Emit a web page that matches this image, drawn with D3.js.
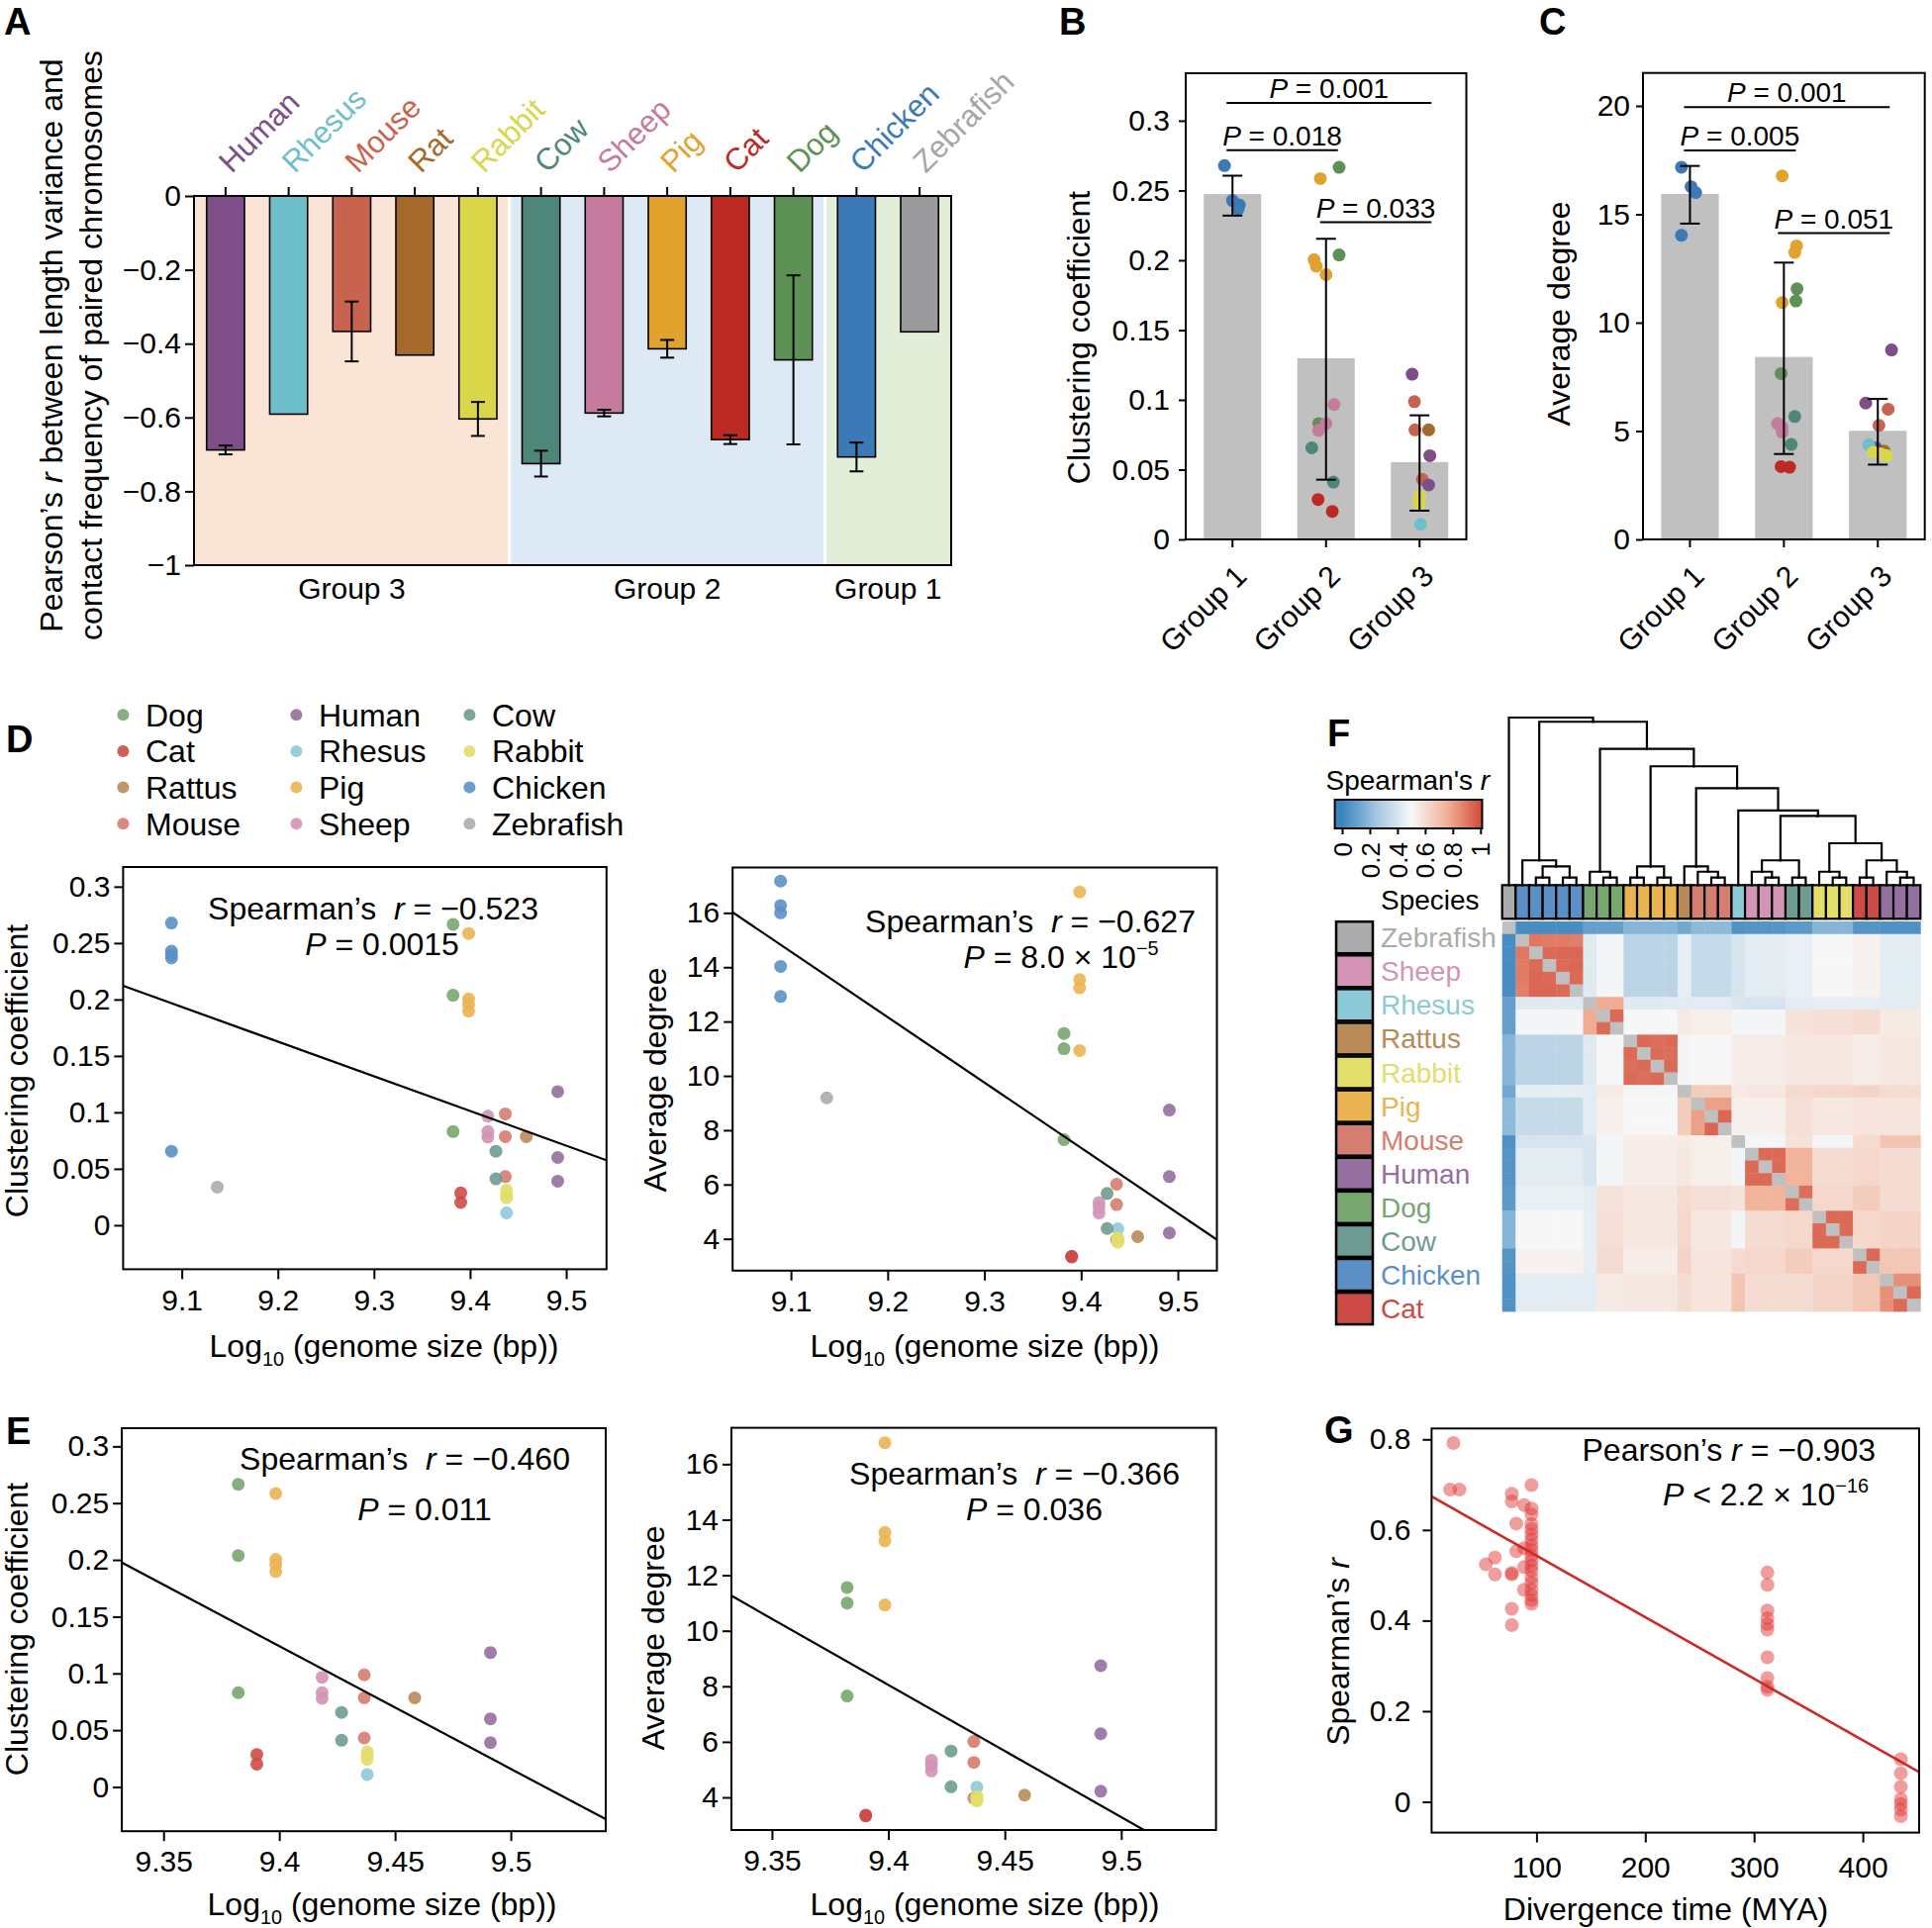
<!DOCTYPE html>
<html>
<head>
<meta charset="utf-8">
<script src="https://cdn.jsdelivr.net/npm/d3@7/dist/d3.min.js"></script>
<style>
html,body{margin:0;padding:0;background:#fff;}
svg{display:block;}
svg text{font-family:"Liberation Sans",Arial,Helvetica,sans-serif;}
</style>
</head>
<body>
<script>
// ===================== DATA =====================
// Panel A
const speciesA = ["Human","Rhesus","Mouse","Rat","Rabbit","Cow","Sheep","Pig","Cat","Dog","Chicken","Zebrafish"];
const groupA   = [3,3,3,3,3,2,2,2,2,2,1,1];
const valueA   = [-0.688,-0.591,-0.367,-0.431,-0.604,-0.725,-0.588,-0.414,-0.660,-0.444,-0.707,-0.368];
const errA     = [0.012,0,0.081,0,0.046,0.035,0.009,0.024,0.012,0.229,0.039,0];
const ticksA   = [0,-0.2,-0.4,-0.6,-0.8,-1];
const groupIdsA = [3,2,1];
const groupNamesA = ["Group 3","Group 2","Group 1"];

// Panels B/C
const groupsBC = ["Group 1","Group 2","Group 3"];
const ccMean = [0.2474,0.1298,0.0554];
const ccHi   = [0.2606,0.2154,0.0889];
const ccLo   = [0.2320,0.0428,0.0206];
const degMean = [15.94,8.42,5.01];
const degHi   = [17.23,12.77,6.48];
const degLo   = [14.57,3.94,3.45];
const pvalB = [["Group 1","Group 3",0.3127,"0.001"],["Group 1","Group 2",0.2788,"0.018"],["Group 2","Group 3",0.2272,"0.033"]];
const pvalC = [["Group 1","Group 3",19.94,"0.001"],["Group 1","Group 2",17.95,"0.005"],["Group 2","Group 3",14.13,"0.051"]];
const ticksB = [0,0.05,0.1,0.15,0.2,0.25,0.3];
const ticksC = [0,5,10,15,20];

// Per-species data (panels B–E)
const spp      = ["Dog","Cat","Rat","Mouse","Human","Rhesus","Pig","Sheep","Cow","Rabbit","Chicken","Zebrafish"];
const sppLabel = ["Dog","Cat","Rattus","Mouse","Human","Rhesus","Pig","Sheep","Cow","Rabbit","Chicken","Zebrafish"];
const sppGroup = [2,2,3,3,3,3,2,2,2,3,1,1];
const genomeLog10 = [9.3823,9.3903,9.4585,9.4367,9.4912,9.4380,9.3985,9.4185,9.4269,9.4380,9.0893,9.1370];
const clusterCoef = [[0.2666,0.2038,0.0830],[0.0286,0.0201],[0.0785],[0.0987,0.0785,0.0431],[0.1184,0.0600,0.0390],[0.0109],
  [0.2585,0.2005,0.1957,0.1897],[0.0966,0.0830,0.0781],[0.0656,0.0411],[0.0310,0.0274,0.0242],[0.2678,0.2428,0.2396,0.2368,0.0656],[0.0338]];
const clusterJitter = [[0.14,0.14,-0.079],[-0.085,0.067],[0.097],[-0.055,-0.049,0.03],[-0.079,0.11,0.097],[0.012],
  [-0.061,-0.128,-0.104,0],[0.085,0,-0.079],[-0.152,0.079],[0,-0.012,0],[-0.086,0,0.073,0.061,null],[null]];
const avgDegree = [[11.56,11.00,7.65],[3.36,3.33],[4.08],[6.01,5.26,3.97],[8.74,6.29,4.22],[4.37],
  [16.77,13.54,13.24,10.93],[5.34,5.17,4.95],[5.67,4.38],[4.03,3.95,3.87],[17.17,16.27,16.00,14.03,12.92],[9.19]];
const degreeJitter = [[0.14,0.128,-0.03],[-0.03,0.061],[0.067],[0.11,0.012,0.04],[0.146,-0.128,-0.018],[-0.097],
  [-0.018,0.135,0.116,-0.018],[-0.067,-0.018,-0.018],[0.116,0.079],[-0.049,0.03,0.091],[-0.091,0.012,0.061,-0.091,null],[null]];

// regression lines (endpoints in data units) and statistics
const fitDL = [[9.039,0.2122],[9.542,0.0576]];
const fitDR = [[9.0397,16.02],[9.5404,3.97]];
const fitEL = [[9.332,0.1976],[9.541,-0.0284]];
const fitER = [[9.3326,11.26],[9.5407,1.35]];
const fitG  = [[3.55,0.674],[451.8,0.0656]];
const ticksLog = [9.1,9.2,9.3,9.4,9.5];
const ticksLogE = [9.35,9.4,9.45,9.5];
const ticksCC = [0,0.05,0.1,0.15,0.2,0.25,0.3];
const ticksDeg = [4,6,8,10,12,14,16];

// Panel G
const divTime = [20.6,23.6,29.2,53.4,61.8,61.8,77.3,77.3,77.3,77.3,77.3,77.3,81.4,81.4,88.6,88.6,88.6,88.6,
  95.4,95.4,95.4,95.4,95.4,95.4,95.4,95.4,95.4,95.4,95.4,95.4,95.4,95.4,95.4,95.4,95.4,95.4,95.4,
  312.3,312.3,312.3,312.3,312.3,312.3,312.3,312.3,312.3,312.3,435,435,435,435,435,435,435];
const divRho = [0.689,0.792,0.689,0.524,0.539,0.502,0.680,0.663,0.505,0.502,0.426,0.390,0.614,0.553,0.655,0.560,0.518,0.468,
  0.699,0.647,0.634,0.613,0.602,0.590,0.579,0.566,0.556,0.544,0.533,0.521,0.510,0.495,0.483,0.468,0.456,0.445,0.437,
  0.506,0.479,0.422,0.405,0.392,0.380,0.319,0.273,0.254,0.247,0.094,0.063,0.033,0.006,-0.005,-0.017,-0.032];
const ticksGx = [100,200,300,400];
const ticksGy = [0,0.2,0.4,0.6,0.8];

// Panel F heatmap
const heatSpecies = ["Zebrafish","Chicken","Dog","Pig","Rat","Mouse","Rhesus","Sheep","Cow","Rabbit","Cat","Human"];
const heatCounts  = [1,5,3,4,1,3,1,3,2,3,2,3];
const betweenRows = [
  [],
  [0.03],
  [0.10,0.49],
  [0.18,0.32,0.50],
  [0.13,0.45,0.55,0.49],
  [0.20,0.35,0.53,0.50,0.66],
  [0.05,0.40,0.49,0.54,0.55,0.53],
  [0.06,0.44,0.49,0.54,0.56,0.53,0.49],
  [0.08,0.46,0.58,0.56,0.61,0.59,0.58,0.75],
  [0.18,0.50,0.59,0.56,0.62,0.56,0.49,0.60,0.62],
  [0.06,0.52,0.60,0.54,0.63,0.57,0.61,0.62,0.66,0.62],
  [0.05,0.44,0.55,0.56,0.60,0.57,0.69,0.60,0.60,0.63,0.68]
];
const dogSample1Row = [0.10,0.43,null,0.43,0.44,0.44,0.41,0.40,0.44,0.45,0.45,0.44];
const withinPairs = [[],[0.90,0.89,0.89,0.88,0.93,0.94,0.94,0.93,0.94,0.93],[0.77,0.77,0.93],[0.93,0.92,0.93,0.93,0.92,0.93],
  [],[0.80,0.80,0.94],[],[0.93,0.93,0.93],[0.92],[0.93,0.93,0.93],[0.93],[0.84,0.84,0.93]];
// dendrogram: [height, left, right]; integers are heatmap columns
const dendro = [1.0, 0, [0.975,
  [0.148, 1, [0.112, [0.045,2,3], [0.045,4,5]]],
  [0.813,
    [0.080, 6, [0.045,7,8]],
    [0.709,
      [0.112, [0.045,9,10], [0.045,11,12]],
      [0.579,
        [0.112, 13, [0.080, 14, [0.045,15,16]]],
        [0.445, 17,
          [0.413,
            [0.148, [0.080, 18, [0.045,19,20]], [0.045,21,22]],
            [0.250, [0.080, 23, [0.045,24,25]], [0.148, [0.045,26,27], [0.080, 28, [0.045,29,30]]]]
          ]
        ]
      ]
    ]
  ]
]];
const cbStops  = [0,0.25,0.5,0.75,1];
const cbColors = ["#3b84be","#a3c8e1","#f7f7f7","#f2b49b","#d24f3d"];
const cbTicks  = [0,0.2,0.4,0.6,0.8,1];
const legendF  = ["Zebrafish","Sheep","Rhesus","Rat","Rabbit","Pig","Mouse","Human","Dog","Cow","Chicken","Cat"];

// colours
const colA = {Human:"#7d4e87",Rhesus:"#6fbfcb",Mouse:"#c8634f",Rat:"#a5692c",Rabbit:"#dad649",Cow:"#4e8679",
  Sheep:"#c67b9e",Pig:"#e1a22e",Cat:"#bd2a24",Dog:"#5e9155",Chicken:"#3b7ab7",Zebrafish:"#9a999c"};
const labelColA = Object.assign({}, colA, {Zebrafish:"#a6a6a6"});
const colF = {Dog:"#78a66f",Cat:"#cd4b47",Rat:"#b98a58",Mouse:"#d57d6e",Human:"#946fa0",Rhesus:"#8ccad8",
  Pig:"#ebb453",Sheep:"#d394b5",Cow:"#6e9b92",Rabbit:"#e2de69",Chicken:"#5b90c7",Zebrafish:"#acabad"};
const groupBgA = ["#fae4d6","#dde9f5","#e3eed9"];

// ===================== DRAWING =====================
const svg = d3.select("body").append("svg").attr("width",1952).attr("height",1948);
svg.append("rect").attr("width",1952).attr("height",1948).attr("fill","#fff");
const defs = svg.append("defs");
const fmt = d3.format("~g");

function styleAxis(sel, size) {
  sel.select(".domain").remove();
  sel.selectAll(".tick line").attr("stroke","#000").attr("stroke-width",2);
  sel.selectAll(".tick text").attr("font-size",size||30).attr("fill","#000");
}
function rich(g, parts, o) {
  const size = o.size || 32;
  const t = g.append("text").attr("font-size",size).attr("text-anchor",o.anchor||"start")
    .attr("fill",o.fill||"#000").style("white-space","pre");
  if (o.transform) t.attr("transform",o.transform); else t.attr("x",o.x).attr("y",o.y);
  let shift = 0;
  parts.forEach(p => {
    const s = Array.isArray(p) ? p[0] : p, st = Array.isArray(p) ? p[1] : "";
    const ts = t.append("tspan").text(s);
    let target = 0;
    if (st === "sub") { target = size*0.28; ts.attr("font-size",size*0.62); }
    if (st === "sup") { target = -size*0.42; ts.attr("font-size",size*0.62); }
    if (st === "i") ts.attr("font-style","italic");
    if (target !== shift) { ts.attr("dy", target-shift); shift = target; }
  });
  return t;
}
function frame(g, x0, y0, x1, y1) {
  g.append("rect").attr("x",x0).attr("y",y0).attr("width",x1-x0).attr("height",y1-y0)
    .attr("fill","none").attr("stroke","#000").attr("stroke-width",2);
}

// panel letters
[["A",4,35],["B",1070,35],["C",1555,35],["D",6,760],["E",6,1459],["F",1341,754],["G",1338,1458]].forEach(l=>{
  svg.append("text").attr("x",l[1]).attr("y",l[2]).attr("font-size",38).attr("font-weight","bold").text(l[0]);
});

// ---------- Panel A ----------
{
  const g = svg.append("g");
  const x = d3.scaleBand().domain(speciesA).range([196,961]).paddingInner(0.4).paddingOuter(0.2);
  const y = d3.scaleLinear().domain([-1,0]).range([571,198]);
  const st = x.step();
  groupIdsA.forEach((gid,k)=>{
    const mem = speciesA.filter((s,i)=>groupA[i]===gid);
    const x0 = x(mem[0]) - st*0.2, x1 = x(mem[mem.length-1]) + x.bandwidth() + st*0.2;
    const l = k>0 ? x0+1.5 : x0, r = k<groupIdsA.length-1 ? x1-1.5 : x1;
    g.append("rect").attr("x",l).attr("y",y(0)).attr("width",r-l).attr("height",y(-1)-y(0)).attr("fill",groupBgA[k]);
    g.append("text").attr("x",(x0+x1)/2).attr("y",605).attr("text-anchor","middle").attr("font-size",30).text(groupNamesA[k]);
  });
  g.selectAll(".barA").data(speciesA).join("rect").attr("class","barA")
    .attr("x",d=>x(d)).attr("y",y(0)).attr("width",x.bandwidth())
    .attr("height",(d,i)=>y(valueA[i])-y(0)).attr("fill",d=>colA[d]).attr("stroke","#000").attr("stroke-width",1.6);
  speciesA.forEach((s,i)=>{
    if (!errA[i]) return;
    const cx = x(s)+x.bandwidth()/2, y1 = y(valueA[i]+errA[i]), y2 = y(valueA[i]-errA[i]);
    g.append("line").attr("x1",cx).attr("x2",cx).attr("y1",y1).attr("y2",y2).attr("stroke","#000").attr("stroke-width",2);
    [y1,y2].forEach(yy=>g.append("line").attr("x1",cx-7).attr("x2",cx+7).attr("y1",yy).attr("y2",yy).attr("stroke","#000").attr("stroke-width",2));
  });
  frame(g,196,198,961,571);
  const ay = g.append("g").attr("transform","translate(196,0)")
    .call(d3.axisLeft(y).tickValues(ticksA).tickSize(9).tickPadding(4).tickFormat(fmt));
  styleAxis(ay,30);
  const ax = g.append("g").attr("transform","translate(0,198)").call(d3.axisTop(x).tickSize(9).tickFormat(""));
  styleAxis(ax,30);
  speciesA.forEach(s=>{
    g.append("text").attr("transform",`translate(${x(s)+x.bandwidth()/2+6},176) rotate(-45)`)
      .attr("font-size",31).attr("fill",labelColA[s]).text(s);
  });
  rich(g,["Pearson’s ",["r","i"]," between length variance and"],{transform:"translate(63,349) rotate(-90)",size:32,anchor:"middle"});
  rich(g,["contact frequency of paired chromosomes"],{transform:"translate(103,349) rotate(-90)",size:32,anchor:"middle"});
}

// ---------- Panels B & C ----------
function barDot(c) {
  const g = svg.append("g");
  const x = d3.scaleBand().domain(groupsBC).range([c.fx0,c.fx1]).paddingInner(0.386).paddingOuter(0.193);
  const y = d3.scaleLinear().domain(c.ydom).range([c.fy1,c.fy0]);
  const cx = gn => x(gn)+x.bandwidth()/2;
  g.selectAll(".bbar").data(groupsBC).join("rect").attr("class","bbar")
    .attr("x",d=>x(d)).attr("y",(d,i)=>y(c.means[i])).attr("width",x.bandwidth())
    .attr("height",(d,i)=>y(0)-y(c.means[i])).attr("fill","#c0c0c0");
  const pts = [];
  spp.forEach((s,i)=>c.values[i].forEach((v,j)=>{
    const jt = c.jitter[i][j];
    if (jt !== null) pts.push({s, v, jt, gn: groupsBC[sppGroup[i]-1]});
  }));
  g.selectAll(".bpt").data(pts).join("circle").attr("class","bpt")
    .attr("cx",d=>cx(d.gn)+d.jt*x.step()).attr("cy",d=>y(d.v)).attr("r",6.5).attr("fill",d=>colA[d.s]);
  groupsBC.forEach((gn,i)=>{
    const X = cx(gn), y1 = y(c.hi[i]), y2 = y(c.lo[i]);
    g.append("line").attr("x1",X).attr("x2",X).attr("y1",y1).attr("y2",y2).attr("stroke","#000").attr("stroke-width",2);
    [y1,y2].forEach(yy=>g.append("line").attr("x1",X-10).attr("x2",X+10).attr("y1",yy).attr("y2",yy).attr("stroke","#000").attr("stroke-width",2));
  });
  frame(g,c.fx0,c.fy0,c.fx1,c.fy1);
  const ay = g.append("g").attr("transform",`translate(${c.fx0},0)`)
    .call(d3.axisLeft(y).tickValues(c.yticks).tickSize(7).tickPadding(c.pad).tickFormat(fmt));
  styleAxis(ay,30);
  const ax = g.append("g").attr("transform",`translate(0,${c.fy1})`).call(d3.axisBottom(x).tickSize(8).tickFormat(""));
  styleAxis(ax,30);
  groupsBC.forEach(gn=>{
    g.append("text").attr("transform",`translate(${cx(gn)+16},${c.fy1+39}) rotate(-45)`)
      .attr("text-anchor","end").attr("font-size",30).text(gn);
  });
  g.append("text").attr("transform",`translate(${c.titleX},${c.titleY}) rotate(-90)`)
    .attr("text-anchor","middle").attr("font-size",32).text(c.title);
  c.pvals.forEach(p=>{
    const xa = cx(p[0])-6, xb = cx(p[1])+12, yy = y(p[2]);
    g.append("line").attr("x1",xa).attr("x2",xb).attr("y1",yy).attr("y2",yy).attr("stroke","#000").attr("stroke-width",2);
    rich(g,[["P","i"]," = "+p[3]],{x:(xa+xb)/2,y:yy-5,size:28,anchor:"middle"});
  });
}
barDot({fx0:1198,fx1:1481.5,fy0:74,fy1:545,ydom:[0,0.334],yticks:ticksB,means:ccMean,hi:ccHi,lo:ccLo,
  values:clusterCoef,jitter:clusterJitter,title:"Clustering coefficient",titleX:1101,titleY:341,pvals:pvalB,pad:9});
barDot({fx0:1660,fx1:1944.7,fy0:73.7,fy1:545,ydom:[0,21.52],yticks:ticksC,means:degMean,hi:degHi,lo:degLo,
  values:avgDegree,jitter:degreeJitter,title:"Average degree",titleX:1586,titleY:317,pvals:pvalC,pad:6});

// ---------- scatter panels ----------
let clipN = 0;
function scatter(c) {
  const g = svg.append("g");
  const x = d3.scaleLinear().domain(c.xdom).range([c.fx0,c.fx1]);
  const y = d3.scaleLinear().domain(c.ydom).range([c.fy1,c.fy0]);
  const id = "clip"+(clipN++);
  defs.append("clipPath").attr("id",id).append("rect").attr("x",c.fx0).attr("y",c.fy0)
    .attr("width",c.fx1-c.fx0).attr("height",c.fy1-c.fy0);
  const pg = g.append("g").attr("clip-path",`url(#${id})`);
  pg.selectAll("circle").data(c.points).join("circle")
    .attr("cx",d=>x(d.x)).attr("cy",d=>y(d.y)).attr("r",c.r).attr("fill",d=>d.color).attr("fill-opacity",c.op);
  pg.append("line").attr("x1",x(c.fit[0][0])).attr("y1",y(c.fit[0][1])).attr("x2",x(c.fit[1][0])).attr("y2",y(c.fit[1][1]))
    .attr("stroke",c.fitColor||"#000").attr("stroke-width",c.fitW||2.2);
  frame(g,c.fx0,c.fy0,c.fx1,c.fy1);
  const ay = g.append("g").attr("transform",`translate(${c.fx0},0)`)
    .call(d3.axisLeft(y).tickValues(c.yticks).tickSize(9).tickPadding(c.ypad||4).tickFormat(fmt));
  styleAxis(ay,30);
  const ax = g.append("g").attr("transform",`translate(0,${c.fy1})`)
    .call(d3.axisBottom(x).tickValues(c.xticks).tickSize(10).tickPadding(c.xpad||10).tickFormat(fmt));
  styleAxis(ax,30);
  c.texts.forEach(t=>rich(g,t.parts,{x:t.x,y:t.y,size:32,anchor:t.anchor||"middle"}));
  rich(g,c.ytitle,{transform:`translate(${c.ytX},${c.ytY}) rotate(-90)`,size:32,anchor:"middle"});
  rich(g,c.xtitle,{x:c.xtX,y:c.xtY,size:32,anchor:"middle"});
}
function speciesPoints(metric, keep) {
  const out = [];
  spp.forEach((s,i)=>{ if (keep(s)) metric[i].forEach(v=>out.push({x:genomeLog10[i],y:v,color:colF[s]})); });
  return out;
}
const logTitle = ["Log",["10","sub"]," (genome size (bp))"];
const all = () => true, noOut = s => s!=="Chicken" && s!=="Zebrafish";

scatter({fx0:124.4,fx1:612.8,fy0:876,fy1:1282.4,xdom:[9.039,9.542],ydom:[-0.039,0.3174],xticks:ticksLog,yticks:ticksCC,
  points:speciesPoints(clusterCoef,all),r:6.5,op:0.9,fit:fitDL,
  texts:[{parts:["Spearman’s  ",["r","i"]," = −0.523"],x:377,y:929},{parts:[["P","i"]," = 0.0015"],x:386,y:965}],
  ytitle:["Clustering coefficient"],ytX:28,ytY:1082,xtitle:logTitle,xtX:388,xtY:1371});
scatter({fx0:740.2,fx1:1229.5,fy0:876.5,fy1:1283.8,xdom:[9.0397,9.5404],ydom:[2.83,17.67],xticks:ticksLog,yticks:ticksDeg,
  points:speciesPoints(avgDegree,all),r:6.5,op:0.9,fit:fitDR,
  texts:[{parts:["Spearman’s  ",["r","i"]," = −0.627"],x:1041,y:942},{parts:[["P","i"]," = 8.0 × 10",["−5","sup"]],x:1072,y:978}],
  ytitle:["Average degree"],ytX:673,ytY:1091,xtitle:logTitle,xtX:995,xtY:1371});
scatter({fx0:123.1,fx1:612,fy0:1443,fy1:1850.2,xdom:[9.332,9.541],ydom:[-0.039,0.316],xticks:ticksLogE,yticks:ticksCC,
  points:speciesPoints(clusterCoef,noOut),r:6.5,op:0.9,fit:fitEL,
  texts:[{parts:["Spearman’s  ",["r","i"]," = −0.460"],x:409,y:1485},{parts:[["P","i"]," = 0.011"],x:429,y:1536}],
  ytitle:["Clustering coefficient"],ytX:28,ytY:1646,xtitle:logTitle,xtX:386,xtY:1935});
scatter({fx0:739,fx1:1228.6,fy0:1442.6,fy1:1849,xdom:[9.3326,9.5407],ydom:[2.824,17.31],xticks:ticksLogE,yticks:ticksDeg,
  points:speciesPoints(avgDegree,noOut),r:6.5,op:0.9,fit:fitER,
  texts:[{parts:["Spearman’s  ",["r","i"]," = −0.366"],x:1025,y:1500},{parts:[["P","i"]," = 0.036"],x:1045,y:1536}],
  ytitle:["Average degree"],ytX:671,ytY:1655,xtitle:logTitle,xtX:995,xtY:1935});
scatter({fx0:1446.4,fx1:1939,fy0:1443.3,fy1:1851.6,xdom:[3.55,451.8],ydom:[-0.068,0.824],xticks:ticksGx,yticks:ticksGy,
  points:divTime.map((t,i)=>({x:t,y:divRho[i],color:"#e23c3c"})),r:7,op:0.5,fit:fitG,fitColor:"#cc2a26",fitW:2.6,
  ypad:12,xpad:14,
  texts:[{parts:["Pearson’s ",["r","i"]," = −0.903"],x:1895,y:1476,anchor:"end"},
         {parts:[["P","i"]," < 2.2 × 10",["−16","sup"]],x:1888,y:1521,anchor:"end"}],
  ytitle:["Spearman’s ",["r","i"]],ytX:1363,ytY:1669,xtitle:["Divergence time (MYA)"],xtX:1683,xtY:1940});

// ---------- D legend ----------
{
  const g = svg.append("g");
  spp.forEach((s,i)=>{
    const col = Math.floor(i/4), row = i%4;
    const cy = 722.2 + row*36.7;
    g.append("circle").attr("cx",124.4+col*175).attr("cy",cy).attr("r",6).attr("fill",colF[s]).attr("fill-opacity",0.9);
    g.append("text").attr("x",147+col*175).attr("y",cy+11.5).attr("font-size",32).text(sppLabel[i]);
  });
}

// ---------- Panel F ----------
{
  const g = svg.append("g");
  const samples = [];
  heatSpecies.forEach((s,k)=>{ for (let j=0;j<heatCounts[k];j++) samples.push({sp:k,j}); });
  const n = samples.length;
  const xH = d3.scaleBand().domain(d3.range(n)).range([1517.7,1940.3]);
  const yH = d3.scaleBand().domain(d3.range(n)).range([931,1325]);
  const color = d3.scaleLinear().domain(cbStops).range(cbColors).clamp(true);
  const dogK = heatSpecies.indexOf("Dog");
  function pairIdx(a,b,m){ let idx=0; for(let i=0;i<a;i++) idx += m-1-i; return idx + (b-a-1); }
  function val(i,j){
    if (i===j) return null;
    const A = samples[i], B = samples[j];
    if (A.sp===B.sp) { const a=Math.min(A.j,B.j), b=Math.max(A.j,B.j); return withinPairs[A.sp][pairIdx(a,b,heatCounts[A.sp])]; }
    if (A.sp===dogK && A.j===0) return dogSample1Row[B.sp];
    if (B.sp===dogK && B.j===0) return dogSample1Row[A.sp];
    return betweenRows[Math.max(A.sp,B.sp)][Math.min(A.sp,B.sp)];
  }
  const cells = [];
  for (let i=0;i<n;i++) for (let j=0;j<n;j++) cells.push({i,j,v:val(i,j)});
  g.selectAll(".hc").data(cells).join("rect").attr("class","hc")
    .attr("x",d=>xH(d.j)).attr("y",d=>yH(d.i)).attr("width",xH.bandwidth()+0.4).attr("height",yH.bandwidth()+0.4)
    .attr("fill",d=>d.v===null?"#c0c0c0":color(d.v));
  // species annotation bar
  g.selectAll(".sb").data(samples).join("rect").attr("class","sb")
    .attr("x",(d,i)=>xH(i)).attr("y",894.3).attr("width",xH.bandwidth()).attr("height",34)
    .attr("fill",d=>colF[heatSpecies[d.sp]]).attr("stroke","#000").attr("stroke-width",2.2);
  g.append("text").attr("x",1395).attr("y",919.4).attr("font-size",28).text("Species");
  // dendrogram
  const yD = d3.scaleLinear().domain([0,1]).range([894.3,725]);
  const root = d3.hierarchy(dendro, d => Array.isArray(d) ? d.slice(1) : null);
  root.eachAfter(nd=>{
    if (nd.children) { nd.hx = d3.mean(nd.children, c=>c.hx); nd.hh = nd.data[0]; }
    else { nd.hx = xH(nd.data)+xH.bandwidth()/2; nd.hh = 0; }
  });
  g.selectAll(".dl").data(root.descendants().filter(d=>d.parent)).join("path").attr("class","dl")
    .attr("d",d=>`M${d.hx},${yD(d.hh)}V${yD(d.parent.hh)}H${d.parent.hx}`)
    .attr("fill","none").attr("stroke","#000").attr("stroke-width",2.2).attr("stroke-linecap","square");
  // colour bar
  const cb = d3.scaleLinear().domain([0,1]).range([1356,1495.8]);
  const grad = defs.append("linearGradient").attr("id","cbgrad").attr("gradientUnits","userSpaceOnUse")
    .attr("x1",cb(0)).attr("x2",cb(1)).attr("y1",0).attr("y2",0);
  d3.range(0,1.0001,0.05).forEach(t=>grad.append("stop").attr("offset",t).attr("stop-color",color(t)));
  g.append("rect").attr("x",1348.6).attr("y",808).attr("width",148.9).attr("height",29)
    .attr("fill","url(#cbgrad)").attr("stroke","#000").attr("stroke-width",2);
  const ca = g.append("g").attr("transform","translate(0,837)").call(d3.axisBottom(cb).tickValues(cbTicks).tickSize(6).tickFormat(fmt));
  styleAxis(ca,26);
  ca.selectAll(".tick text").attr("transform","rotate(-90)").attr("x",-14).attr("y",0).attr("dy","0.35em").attr("text-anchor","end");
  rich(g,["Spearman's ",["r","i"]],{x:1339.5,y:798,size:28});
  // legend
  legendF.forEach((s,k)=>{
    const top = 930.2 + k*34.08;
    g.append("rect").attr("x",1350).attr("y",top+1).attr("width",37).attr("height",32)
      .attr("fill",colF[s]).attr("stroke","#000").attr("stroke-width",2.5);
    g.append("text").attr("x",1395).attr("y",top+27).attr("font-size",28).attr("fill",colF[s])
      .text(sppLabel[spp.indexOf(s)]);
  });
}
</script>
</body>
</html>
